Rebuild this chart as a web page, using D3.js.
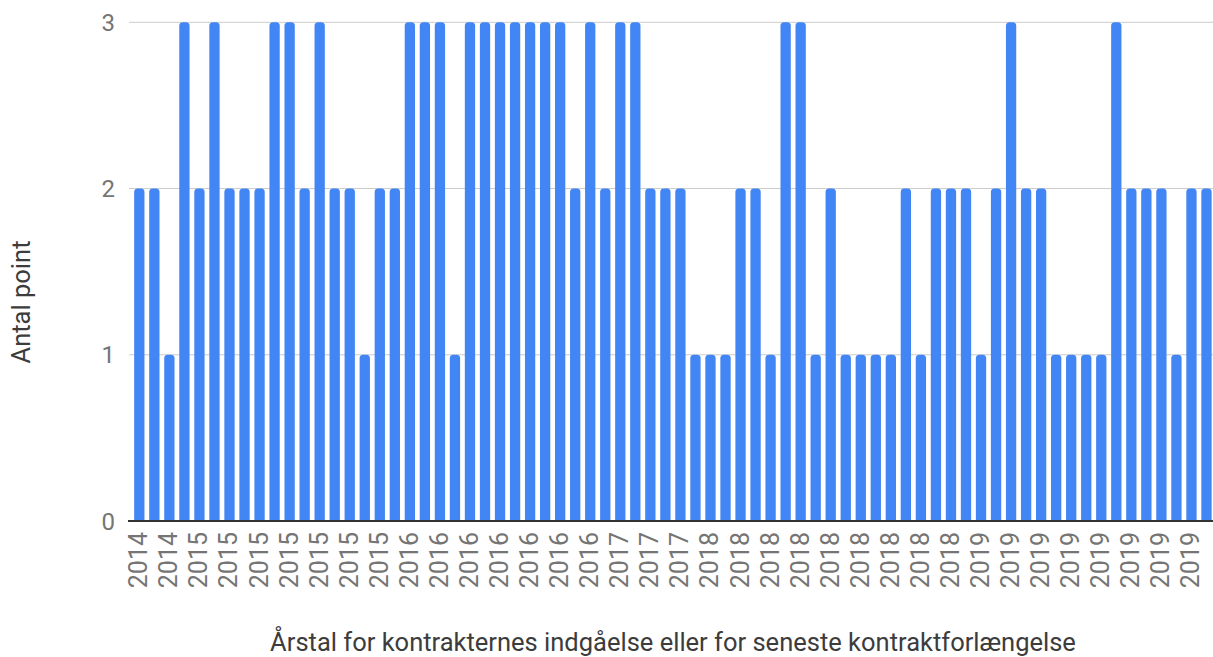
<!DOCTYPE html>
<html>
<head>
<meta charset="utf-8">
<script src="https://cdn.jsdelivr.net/npm/d3@7"></script>
<style>
  html, body { margin: 0; padding: 0; background: #fff; }
  svg { display: block; font-family: Roboto, "Noto Sans", Arial, sans-serif; }
</style>
</head>
<body>
<svg id="chart" width="1213" height="657"></svg>
<script>
// ---- data ----
const categories = [
  "2014","2014","2014","2014",
  "2015","2015","2015","2015","2015","2015","2015","2015","2015","2015","2015","2015","2015","2015",
  "2016","2016","2016","2016","2016","2016","2016","2016","2016","2016","2016","2016","2016","2016",
  "2017","2017","2017","2017","2017","2017",
  "2018","2018","2018","2018","2018","2018","2018","2018","2018","2018","2018","2018","2018","2018","2018","2018","2018","2018",
  "2019","2019","2019","2019","2019","2019","2019","2019","2019","2019","2019","2019","2019","2019","2019","2019"
];
const values = [
  2,2,1,3,2,3,2,2,2,3,
  3,2,3,2,2,1,2,2,3,3,
  3,1,3,3,3,3,3,3,3,2,
  3,2,3,3,2,2,2,1,1,1,
  2,2,1,3,3,1,2,1,1,1,
  1,2,1,2,2,2,1,2,3,2,
  2,1,1,1,1,3,2,2,2,1,
  2,2
];
const yTicks = [0, 1, 2, 3];
const xTitle = "Årstal for kontrakternes indgåelse eller for seneste kontraktforlængelse";
const yTitle = "Antal point";

// ---- chart ----
(function () {
const svg = d3.select("#chart");
const plotLeft = 129, plotRight = 1214, plotTop = 22.3, plotBottom = 521;

const x = d3.scaleBand()
  .domain(d3.range(values.length))
  .range([131.8, plotRight])
  .paddingInner(0.315)
  .paddingOuter(0.1575);

const y = d3.scaleLinear().domain([0, 3]).range([plotBottom, plotTop]);

// gridlines
svg.append("g").selectAll("line")
  .data(yTicks.filter(d => d > 0))
  .join("line")
  .attr("x1", plotLeft).attr("x2", plotRight)
  .attr("y1", d => y(d)).attr("y2", d => y(d))
  .attr("stroke", "#cccccc").attr("stroke-width", 1);

// bars with rounded tops
function barPath(d, i) {
  const x0 = x(i), w = x.bandwidth(), y0 = y(d), y1 = y(0);
  const r = Math.min(3.5, w / 2);
  return `M${x0},${y1} L${x0},${y0 + r} Q${x0},${y0} ${x0 + r},${y0} L${x0 + w - r},${y0} Q${x0 + w},${y0} ${x0 + w},${y0 + r} L${x0 + w},${y1} Z`;
}
svg.append("g").selectAll("path")
  .data(values)
  .join("path")
  .attr("d", (d, i) => barPath(d, i))
  .attr("fill", "#4285f4");

// baseline
svg.append("line")
  .attr("x1", plotLeft - 1).attr("x2", plotRight)
  .attr("y1", y(0)).attr("y2", y(0))
  .attr("stroke", "#333333").attr("stroke-width", 2);

// y tick labels
svg.append("g").selectAll("text")
  .data(yTicks)
  .join("text")
  .attr("x", 115)
  .attr("y", d => y(d))
  .attr("dy", "0.36em")
  .attr("text-anchor", "end")
  .attr("fill", "#757575")
  .style("font-size", "24px")
  .text(d => d);

// x tick labels (every other category)
const xTickIdx = d3.range(0, values.length, 2);
svg.append("g").selectAll("text")
  .data(xTickIdx)
  .join("text")
  .attr("transform", i => `translate(${x(i) + x.bandwidth() / 2 - 1},${532}) rotate(-90)`)
  .attr("dy", "0.36em")
  .attr("text-anchor", "end")
  .attr("fill", "#757575")
  .style("font-size", "25px")
  .text(i => categories[i]);

// axis titles
svg.append("text")
  .attr("x", 673).attr("y", 651)
  .attr("text-anchor", "middle")
  .attr("fill", "#3c3c3c")
  .style("font-size", "25.5px")
  .text(xTitle);

svg.append("text")
  .attr("transform", `translate(30,302) rotate(-90)`)
  .attr("text-anchor", "middle")
  .attr("fill", "#3c3c3c")
  .style("font-size", "25.5px")
  .text(yTitle);
})();
</script>
</body>
</html>
